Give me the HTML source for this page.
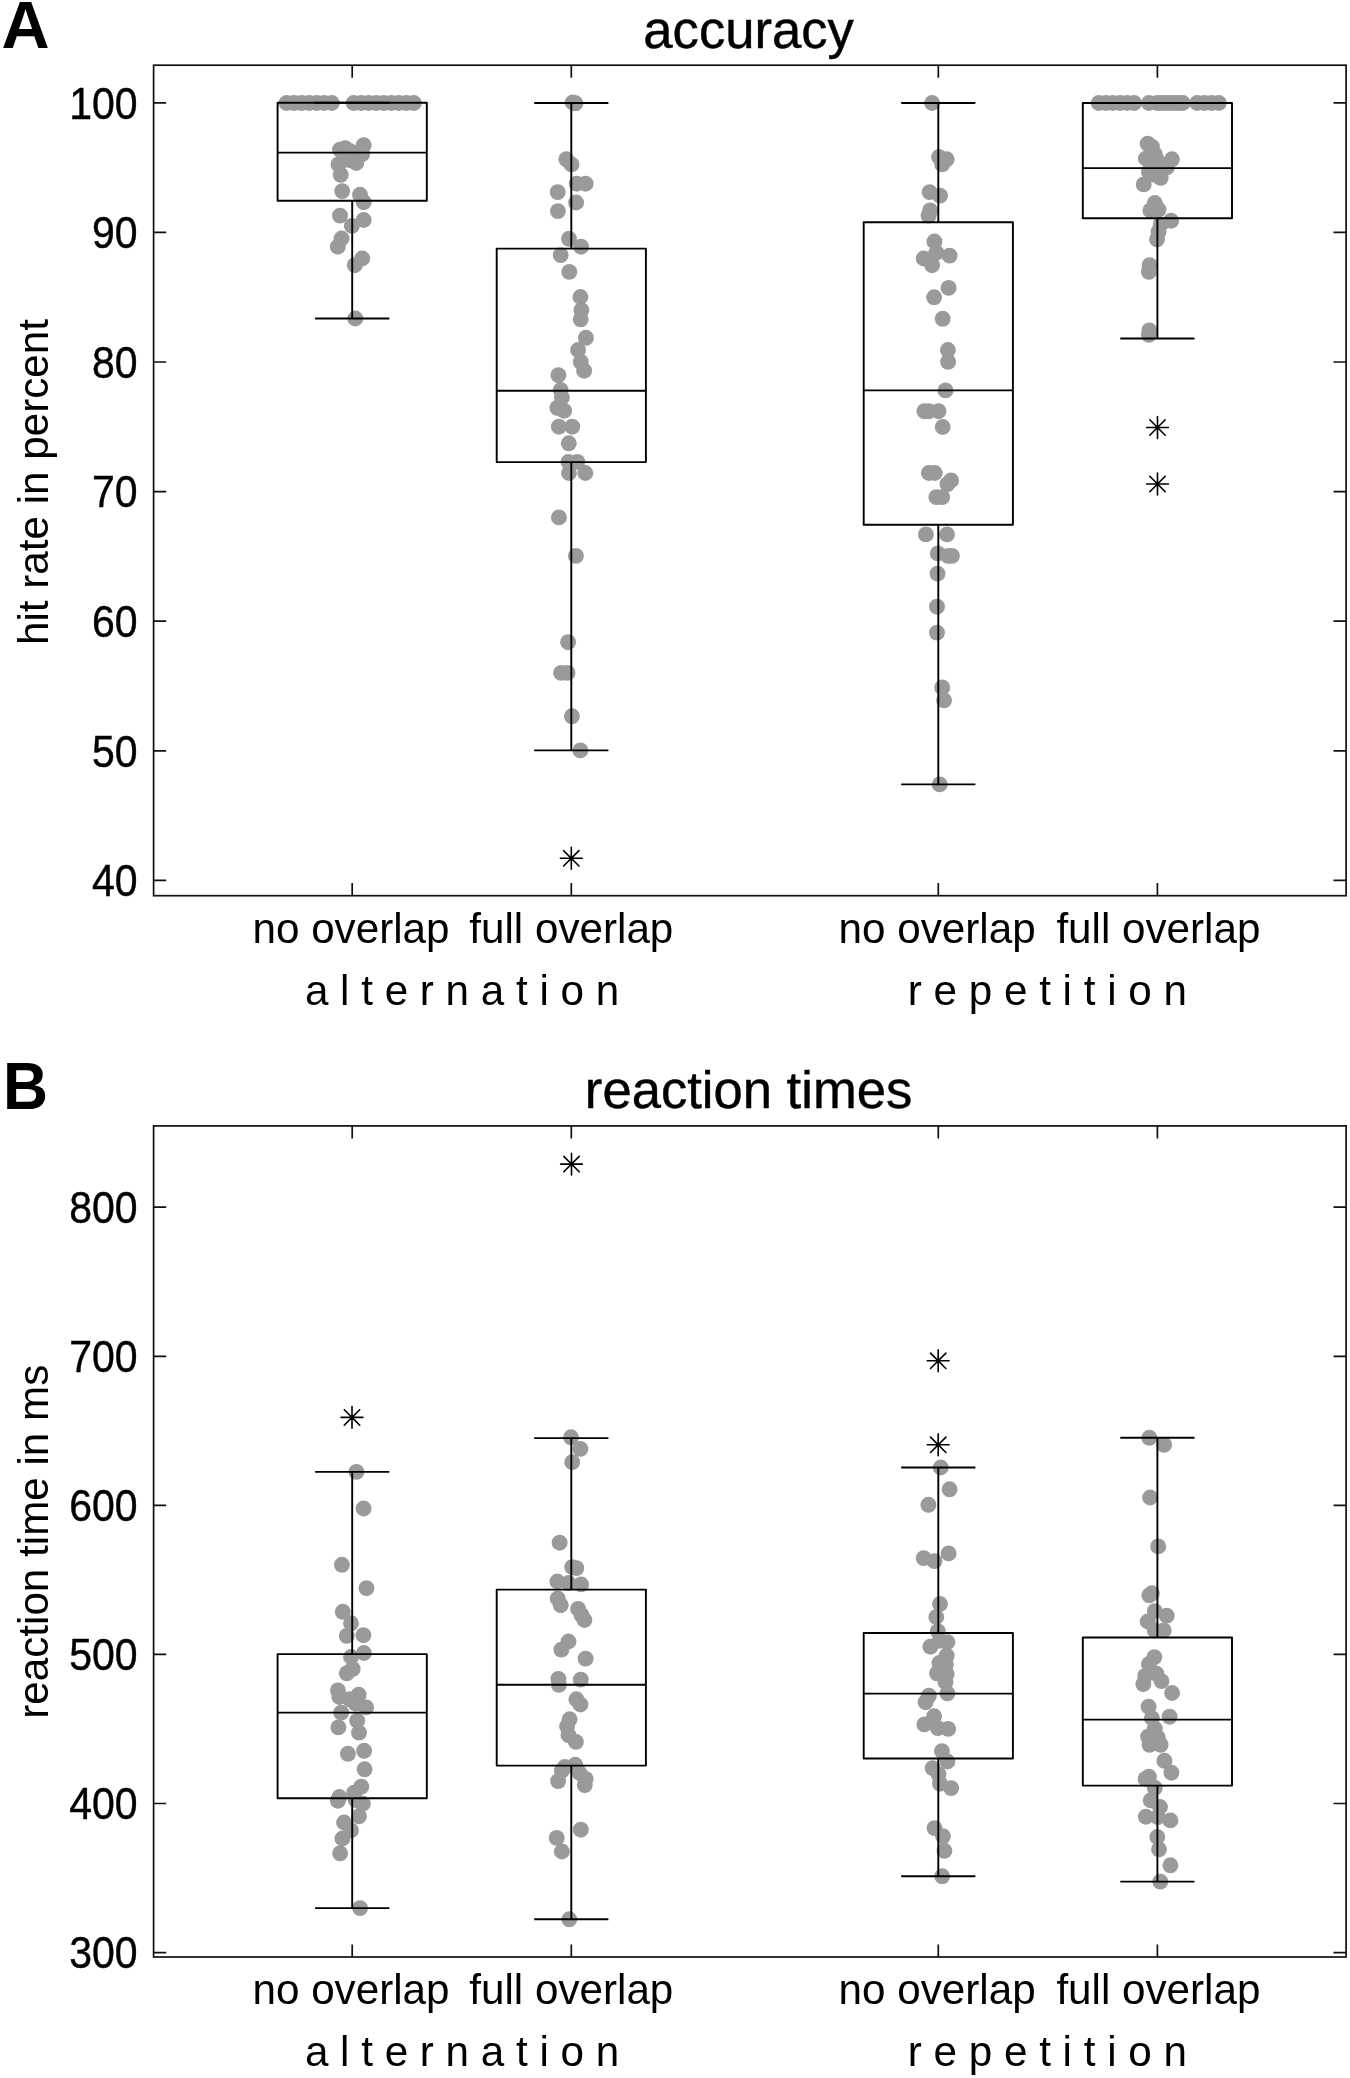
<!DOCTYPE html>
<html lang="en">
<head>
<meta charset="utf-8">
<title>accuracy and reaction times</title>
<style>
html,body{margin:0;padding:0;background:#fff;}
svg{display:block;will-change:transform;}
text{font-family:"Liberation Sans",Arial,Helvetica,sans-serif;fill:#000;}
.t{font-size:42.2px;}
.k{font-size:41.0px;stroke:#000;stroke-width:.4px;}
.ti{font-size:52.6px;fill:#000;stroke:#000;stroke-width:.45px;}
.L{font-size:63px;font-weight:bold;fill:#000;}
</style>
</head>
<body>
<svg width="1350" height="2078" viewBox="0 0 1350 2078">
<rect width="1350" height="2078" fill="#fff"/>
<g id="panelA">
<g fill="#9a9a9a"><circle cx="286.5" cy="103.0" r="7.95"/><circle cx="294.1" cy="103.0" r="7.95"/><circle cx="301.6" cy="103.0" r="7.95"/><circle cx="309.1" cy="103.0" r="7.95"/><circle cx="316.7" cy="103.0" r="7.95"/><circle cx="324.2" cy="103.0" r="7.95"/><circle cx="331.8" cy="103.0" r="7.95"/><circle cx="353.6" cy="103.0" r="7.95"/><circle cx="361.1" cy="103.0" r="7.95"/><circle cx="368.7" cy="103.0" r="7.95"/><circle cx="376.2" cy="103.0" r="7.95"/><circle cx="383.8" cy="103.0" r="7.95"/><circle cx="391.3" cy="103.0" r="7.95"/><circle cx="398.8" cy="103.0" r="7.95"/><circle cx="406.4" cy="103.0" r="7.95"/><circle cx="413.9" cy="103.0" r="7.95"/><circle cx="340.0" cy="149.6" r="7.95"/><circle cx="345.2" cy="148.1" r="7.95"/><circle cx="350.4" cy="151.1" r="7.95"/><circle cx="363.7" cy="145.2" r="7.95"/><circle cx="362.2" cy="154.1" r="7.95"/><circle cx="356.3" cy="163.0" r="7.95"/><circle cx="348.9" cy="160.0" r="7.95"/><circle cx="338.5" cy="164.4" r="7.95"/><circle cx="340.7" cy="174.8" r="7.95"/><circle cx="342.2" cy="191.1" r="7.95"/><circle cx="360.0" cy="194.8" r="7.95"/><circle cx="363.7" cy="202.2" r="7.95"/><circle cx="340.0" cy="215.6" r="7.95"/><circle cx="351.9" cy="225.9" r="7.95"/><circle cx="363.7" cy="220.0" r="7.95"/><circle cx="341.5" cy="238.5" r="7.95"/><circle cx="337.8" cy="246.7" r="7.95"/><circle cx="362.2" cy="258.5" r="7.95"/><circle cx="354.8" cy="265.2" r="7.95"/><circle cx="355.3" cy="318.5" r="7.95"/><circle cx="572.7" cy="102.5" r="7.95"/><circle cx="575.5" cy="103.3" r="7.95"/><circle cx="566.3" cy="159.3" r="7.95"/><circle cx="571.5" cy="164.4" r="7.95"/><circle cx="576.7" cy="183.7" r="7.95"/><circle cx="585.6" cy="183.7" r="7.95"/><circle cx="557.7" cy="192.1" r="7.95"/><circle cx="576.1" cy="202.5" r="7.95"/><circle cx="557.9" cy="211.1" r="7.95"/><circle cx="569.0" cy="238.8" r="7.95"/><circle cx="581.1" cy="246.7" r="7.95"/><circle cx="560.7" cy="255.1" r="7.95"/><circle cx="569.3" cy="271.9" r="7.95"/><circle cx="580.4" cy="297.0" r="7.95"/><circle cx="581.4" cy="310.1" r="7.95"/><circle cx="580.7" cy="319.3" r="7.95"/><circle cx="585.9" cy="337.8" r="7.95"/><circle cx="578.1" cy="350.0" r="7.95"/><circle cx="580.8" cy="361.9" r="7.95"/><circle cx="584.1" cy="370.7" r="7.95"/><circle cx="558.4" cy="375.2" r="7.95"/><circle cx="560.7" cy="390.0" r="7.95"/><circle cx="561.9" cy="397.4" r="7.95"/><circle cx="557.4" cy="407.8" r="7.95"/><circle cx="564.1" cy="410.7" r="7.95"/><circle cx="558.9" cy="426.7" r="7.95"/><circle cx="572.2" cy="426.7" r="7.95"/><circle cx="568.8" cy="443.3" r="7.95"/><circle cx="568.5" cy="461.9" r="7.95"/><circle cx="577.4" cy="461.9" r="7.95"/><circle cx="569.0" cy="473.0" r="7.95"/><circle cx="585.3" cy="473.0" r="7.95"/><circle cx="558.9" cy="517.4" r="7.95"/><circle cx="575.9" cy="555.9" r="7.95"/><circle cx="568.1" cy="642.2" r="7.95"/><circle cx="561.1" cy="672.9" r="7.95"/><circle cx="567.5" cy="672.9" r="7.95"/><circle cx="571.9" cy="716.3" r="7.95"/><circle cx="580.4" cy="750.4" r="7.95"/><circle cx="932.1" cy="103.0" r="7.95"/><circle cx="939.0" cy="157.0" r="7.95"/><circle cx="946.7" cy="159.3" r="7.95"/><circle cx="942.2" cy="164.4" r="7.95"/><circle cx="929.6" cy="192.1" r="7.95"/><circle cx="940.0" cy="195.6" r="7.95"/><circle cx="930.1" cy="210.4" r="7.95"/><circle cx="928.6" cy="215.6" r="7.95"/><circle cx="934.4" cy="241.5" r="7.95"/><circle cx="949.6" cy="255.6" r="7.95"/><circle cx="923.7" cy="258.5" r="7.95"/><circle cx="936.3" cy="252.6" r="7.95"/><circle cx="932.1" cy="265.2" r="7.95"/><circle cx="948.6" cy="287.9" r="7.95"/><circle cx="934.1" cy="297.3" r="7.95"/><circle cx="942.7" cy="318.8" r="7.95"/><circle cx="947.9" cy="350.0" r="7.95"/><circle cx="948.1" cy="361.9" r="7.95"/><circle cx="945.5" cy="390.4" r="7.95"/><circle cx="924.4" cy="411.2" r="7.95"/><circle cx="928.9" cy="411.2" r="7.95"/><circle cx="938.5" cy="411.2" r="7.95"/><circle cx="942.7" cy="427.0" r="7.95"/><circle cx="928.9" cy="473.0" r="7.95"/><circle cx="934.8" cy="473.0" r="7.95"/><circle cx="951.1" cy="480.4" r="7.95"/><circle cx="947.4" cy="484.1" r="7.95"/><circle cx="936.3" cy="497.1" r="7.95"/><circle cx="942.2" cy="497.1" r="7.95"/><circle cx="925.9" cy="534.4" r="7.95"/><circle cx="947.0" cy="534.4" r="7.95"/><circle cx="937.8" cy="553.4" r="7.95"/><circle cx="948.1" cy="555.9" r="7.95"/><circle cx="951.9" cy="555.9" r="7.95"/><circle cx="937.5" cy="573.7" r="7.95"/><circle cx="937.0" cy="606.7" r="7.95"/><circle cx="937.0" cy="632.6" r="7.95"/><circle cx="942.2" cy="687.4" r="7.95"/><circle cx="944.1" cy="700.3" r="7.95"/><circle cx="939.7" cy="784.4" r="7.95"/><circle cx="1098.7" cy="103.0" r="7.95"/><circle cx="1105.8" cy="103.0" r="7.95"/><circle cx="1112.9" cy="103.0" r="7.95"/><circle cx="1120.0" cy="103.0" r="7.95"/><circle cx="1127.1" cy="103.0" r="7.95"/><circle cx="1134.2" cy="103.0" r="7.95"/><circle cx="1148.9" cy="103.0" r="7.95"/><circle cx="1157.2" cy="103.0" r="7.95"/><circle cx="1161.5" cy="103.0" r="7.95"/><circle cx="1165.9" cy="103.0" r="7.95"/><circle cx="1170.2" cy="103.0" r="7.95"/><circle cx="1174.6" cy="103.0" r="7.95"/><circle cx="1178.7" cy="103.0" r="7.95"/><circle cx="1182.8" cy="103.0" r="7.95"/><circle cx="1197.1" cy="103.0" r="7.95"/><circle cx="1204.4" cy="103.0" r="7.95"/><circle cx="1211.6" cy="103.0" r="7.95"/><circle cx="1218.9" cy="103.0" r="7.95"/><circle cx="1147.7" cy="143.7" r="7.95"/><circle cx="1151.9" cy="146.7" r="7.95"/><circle cx="1154.8" cy="154.1" r="7.95"/><circle cx="1145.9" cy="158.5" r="7.95"/><circle cx="1157.0" cy="160.0" r="7.95"/><circle cx="1171.9" cy="159.3" r="7.95"/><circle cx="1166.7" cy="167.4" r="7.95"/><circle cx="1148.9" cy="171.9" r="7.95"/><circle cx="1160.7" cy="177.8" r="7.95"/><circle cx="1143.7" cy="184.4" r="7.95"/><circle cx="1154.8" cy="174.8" r="7.95"/><circle cx="1154.8" cy="203.0" r="7.95"/><circle cx="1150.4" cy="210.4" r="7.95"/><circle cx="1158.5" cy="209.6" r="7.95"/><circle cx="1171.1" cy="220.7" r="7.95"/><circle cx="1160.7" cy="224.4" r="7.95"/><circle cx="1158.5" cy="231.9" r="7.95"/><circle cx="1157.0" cy="239.3" r="7.95"/><circle cx="1149.6" cy="265.2" r="7.95"/><circle cx="1148.9" cy="271.9" r="7.95"/><circle cx="1149.3" cy="330.4" r="7.95"/><circle cx="1148.9" cy="334.8" r="7.95"/></g>
<path d="M352.2 102.8V102.8M352.2 200.7V318.5M315.1 102.8H389.3M315.1 318.5H389.3M277.6 152.6H426.8" stroke="#000" stroke-width="1.9" fill="none"/>
<rect x="277.6" y="102.8" width="149.2" height="97.9" stroke="#000" stroke-width="1.9" fill="none" stroke-linejoin="round"/>
<path d="M571.3 103.0V248.6M571.3 462.1V750.4M534.2 103.0H608.4M534.2 750.4H608.4M496.7 390.7H645.9" stroke="#000" stroke-width="1.9" fill="none"/>
<rect x="496.7" y="248.6" width="149.2" height="213.5" stroke="#000" stroke-width="1.9" fill="none" stroke-linejoin="round"/>
<path d="M938.3 103.0V222.2M938.3 524.8V784.4M901.2 103.0H975.4M901.2 784.4H975.4M863.7 390.4H1012.9" stroke="#000" stroke-width="1.9" fill="none"/>
<rect x="863.7" y="222.2" width="149.2" height="302.6" stroke="#000" stroke-width="1.9" fill="none" stroke-linejoin="round"/>
<path d="M1157.4 103.0V103.0M1157.4 218.2V338.5M1120.3 103.0H1194.5M1120.3 338.5H1194.5M1082.8 168.1H1232.0" stroke="#000" stroke-width="1.9" fill="none"/>
<rect x="1082.8" y="103.0" width="149.2" height="115.2" stroke="#000" stroke-width="1.9" fill="none" stroke-linejoin="round"/>
<path d="M560.4 858.3H582.2M571.3 847.4V869.2M563.6 850.6L579.0 866.0M563.6 866.0L579.0 850.6" stroke="#000" stroke-width="1.6" stroke-linecap="round" fill="none"/>
<path d="M1146.6 427.5H1168.4M1157.5 416.6V438.4M1149.8 419.8L1165.2 435.2M1149.8 435.2L1165.2 419.8" stroke="#000" stroke-width="1.6" stroke-linecap="round" fill="none"/>
<path d="M1146.6 484.0H1168.4M1157.5 473.1V494.9M1149.8 476.3L1165.2 491.7M1149.8 491.7L1165.2 476.3" stroke="#000" stroke-width="1.6" stroke-linecap="round" fill="none"/>
<rect x="153.6" y="65.2" width="1192.5" height="830.5" fill="none" stroke="#111" stroke-width="1.7"/>
<path d="M352.2 65.2v12.6M352.2 895.7v-12.6M571.3 65.2v12.6M571.3 895.7v-12.6M938.3 65.2v12.6M938.3 895.7v-12.6M1157.4 65.2v12.6M1157.4 895.7v-12.6M153.6 102.8h12.6M1346.1 102.8h-12.6M153.6 232.4h12.6M1346.1 232.4h-12.6M153.6 362.0h12.6M1346.1 362.0h-12.6M153.6 491.6h12.6M1346.1 491.6h-12.6M153.6 621.2h12.6M1346.1 621.2h-12.6M153.6 750.8h12.6M1346.1 750.8h-12.6M153.6 880.4h12.6M1346.1 880.4h-12.6" stroke="#111" stroke-width="1.7" fill="none"/>
<text transform="translate(137.60 118.60) scale(1.0 1.088)" text-anchor="end" class="k">100</text>
<text transform="translate(137.60 248.20) scale(1.0 1.088)" text-anchor="end" class="k">90</text>
<text transform="translate(137.60 377.80) scale(1.0 1.088)" text-anchor="end" class="k">80</text>
<text transform="translate(137.60 507.40) scale(1.0 1.088)" text-anchor="end" class="k">70</text>
<text transform="translate(137.60 637.00) scale(1.0 1.088)" text-anchor="end" class="k">60</text>
<text transform="translate(137.60 766.60) scale(1.0 1.088)" text-anchor="end" class="k">50</text>
<text transform="translate(137.60 896.20) scale(1.0 1.088)" text-anchor="end" class="k">40</text>
<text transform="translate(351.00 942.80)" text-anchor="middle" class="t">no overlap</text>
<text transform="translate(571.30 942.80)" text-anchor="middle" class="t">full overlap</text>
<text transform="translate(937.10 942.80)" text-anchor="middle" class="t">no overlap</text>
<text transform="translate(1158.40 942.80)" text-anchor="middle" class="t">full overlap</text>
<text transform="translate(462.05 1005.10)" text-anchor="middle" class="t" xml:space="preserve">a l t e r n a t i o n</text>
<text transform="translate(1047.35 1005.10)" text-anchor="middle" class="t" xml:space="preserve">r e p e t i t i o n</text>
<text transform="translate(748.55 47.80)" text-anchor="middle" class="ti">accuracy</text>
<text transform="translate(48.20 482.05) rotate(-90)" text-anchor="middle" class="t">hit rate in percent</text>
<text transform="translate(1.40 47.90) scale(1.058 1.051)" text-anchor="start" class="L">A</text>
</g>
<g id="panelB">
<g fill="#9a9a9a"><circle cx="356.4" cy="1471.9" r="7.95"/><circle cx="363.6" cy="1508.5" r="7.95"/><circle cx="341.9" cy="1564.8" r="7.95"/><circle cx="366.5" cy="1588.2" r="7.95"/><circle cx="342.8" cy="1611.8" r="7.95"/><circle cx="351.0" cy="1623.3" r="7.95"/><circle cx="346.8" cy="1635.9" r="7.95"/><circle cx="363.4" cy="1635.2" r="7.95"/><circle cx="363.9" cy="1653.0" r="7.95"/><circle cx="351.0" cy="1657.0" r="7.95"/><circle cx="352.7" cy="1668.9" r="7.95"/><circle cx="346.8" cy="1673.3" r="7.95"/><circle cx="337.9" cy="1690.4" r="7.95"/><circle cx="339.4" cy="1697.0" r="7.95"/><circle cx="349.8" cy="1699.3" r="7.95"/><circle cx="358.7" cy="1694.8" r="7.95"/><circle cx="355.7" cy="1703.7" r="7.95"/><circle cx="366.1" cy="1707.4" r="7.95"/><circle cx="341.2" cy="1712.6" r="7.95"/><circle cx="357.2" cy="1720.7" r="7.95"/><circle cx="338.4" cy="1727.4" r="7.95"/><circle cx="359.0" cy="1732.6" r="7.95"/><circle cx="364.1" cy="1750.8" r="7.95"/><circle cx="347.9" cy="1753.8" r="7.95"/><circle cx="364.6" cy="1769.3" r="7.95"/><circle cx="361.3" cy="1786.7" r="7.95"/><circle cx="354.2" cy="1792.6" r="7.95"/><circle cx="339.4" cy="1797.0" r="7.95"/><circle cx="337.9" cy="1800.7" r="7.95"/><circle cx="355.7" cy="1800.0" r="7.95"/><circle cx="362.8" cy="1803.7" r="7.95"/><circle cx="359.0" cy="1816.3" r="7.95"/><circle cx="344.1" cy="1822.5" r="7.95"/><circle cx="351.0" cy="1830.4" r="7.95"/><circle cx="342.4" cy="1838.5" r="7.95"/><circle cx="340.1" cy="1853.3" r="7.95"/><circle cx="360.1" cy="1908.1" r="7.95"/><circle cx="571.0" cy="1437.3" r="7.95"/><circle cx="580.4" cy="1448.9" r="7.95"/><circle cx="572.2" cy="1462.2" r="7.95"/><circle cx="559.6" cy="1542.7" r="7.95"/><circle cx="572.2" cy="1567.1" r="7.95"/><circle cx="576.4" cy="1568.1" r="7.95"/><circle cx="557.4" cy="1581.5" r="7.95"/><circle cx="568.5" cy="1583.0" r="7.95"/><circle cx="581.1" cy="1584.4" r="7.95"/><circle cx="557.7" cy="1598.5" r="7.95"/><circle cx="560.7" cy="1605.2" r="7.95"/><circle cx="578.1" cy="1608.9" r="7.95"/><circle cx="581.4" cy="1614.8" r="7.95"/><circle cx="584.4" cy="1620.0" r="7.95"/><circle cx="568.5" cy="1641.5" r="7.95"/><circle cx="561.4" cy="1649.6" r="7.95"/><circle cx="585.6" cy="1658.6" r="7.95"/><circle cx="558.4" cy="1678.9" r="7.95"/><circle cx="558.9" cy="1684.8" r="7.95"/><circle cx="580.8" cy="1679.6" r="7.95"/><circle cx="576.4" cy="1699.3" r="7.95"/><circle cx="580.4" cy="1704.5" r="7.95"/><circle cx="569.6" cy="1719.3" r="7.95"/><circle cx="567.0" cy="1726.3" r="7.95"/><circle cx="568.5" cy="1735.2" r="7.95"/><circle cx="575.9" cy="1741.9" r="7.95"/><circle cx="564.8" cy="1767.0" r="7.95"/><circle cx="575.2" cy="1764.8" r="7.95"/><circle cx="561.9" cy="1770.7" r="7.95"/><circle cx="558.1" cy="1781.1" r="7.95"/><circle cx="579.6" cy="1773.0" r="7.95"/><circle cx="585.6" cy="1778.9" r="7.95"/><circle cx="584.8" cy="1785.1" r="7.95"/><circle cx="580.8" cy="1829.7" r="7.95"/><circle cx="556.7" cy="1837.9" r="7.95"/><circle cx="561.9" cy="1851.5" r="7.95"/><circle cx="569.3" cy="1919.3" r="7.95"/><circle cx="940.7" cy="1467.5" r="7.95"/><circle cx="949.6" cy="1489.3" r="7.95"/><circle cx="928.4" cy="1504.8" r="7.95"/><circle cx="948.6" cy="1553.4" r="7.95"/><circle cx="923.7" cy="1558.1" r="7.95"/><circle cx="934.5" cy="1561.1" r="7.95"/><circle cx="940.0" cy="1604.0" r="7.95"/><circle cx="936.3" cy="1617.0" r="7.95"/><circle cx="937.8" cy="1631.1" r="7.95"/><circle cx="940.0" cy="1640.7" r="7.95"/><circle cx="947.4" cy="1642.2" r="7.95"/><circle cx="930.4" cy="1646.7" r="7.95"/><circle cx="946.7" cy="1655.6" r="7.95"/><circle cx="939.3" cy="1663.0" r="7.95"/><circle cx="945.9" cy="1664.4" r="7.95"/><circle cx="937.0" cy="1673.3" r="7.95"/><circle cx="946.7" cy="1674.1" r="7.95"/><circle cx="945.5" cy="1682.2" r="7.95"/><circle cx="947.4" cy="1693.3" r="7.95"/><circle cx="928.9" cy="1695.6" r="7.95"/><circle cx="925.6" cy="1702.2" r="7.95"/><circle cx="934.1" cy="1716.3" r="7.95"/><circle cx="924.4" cy="1724.4" r="7.95"/><circle cx="937.8" cy="1728.1" r="7.95"/><circle cx="948.1" cy="1728.9" r="7.95"/><circle cx="941.9" cy="1751.1" r="7.95"/><circle cx="947.4" cy="1761.5" r="7.95"/><circle cx="932.6" cy="1768.1" r="7.95"/><circle cx="938.5" cy="1774.1" r="7.95"/><circle cx="940.0" cy="1783.7" r="7.95"/><circle cx="951.1" cy="1788.1" r="7.95"/><circle cx="934.5" cy="1828.1" r="7.95"/><circle cx="943.0" cy="1836.3" r="7.95"/><circle cx="944.4" cy="1850.8" r="7.95"/><circle cx="942.2" cy="1876.3" r="7.95"/><circle cx="1149.3" cy="1437.8" r="7.95"/><circle cx="1164.1" cy="1444.9" r="7.95"/><circle cx="1150.1" cy="1497.5" r="7.95"/><circle cx="1158.2" cy="1546.4" r="7.95"/><circle cx="1151.9" cy="1593.3" r="7.95"/><circle cx="1149.3" cy="1595.3" r="7.95"/><circle cx="1154.8" cy="1611.1" r="7.95"/><circle cx="1166.7" cy="1615.6" r="7.95"/><circle cx="1147.7" cy="1621.5" r="7.95"/><circle cx="1154.8" cy="1630.4" r="7.95"/><circle cx="1163.7" cy="1630.4" r="7.95"/><circle cx="1154.4" cy="1657.1" r="7.95"/><circle cx="1148.9" cy="1664.1" r="7.95"/><circle cx="1145.2" cy="1675.9" r="7.95"/><circle cx="1156.3" cy="1673.7" r="7.95"/><circle cx="1143.3" cy="1684.1" r="7.95"/><circle cx="1161.5" cy="1681.1" r="7.95"/><circle cx="1172.1" cy="1693.0" r="7.95"/><circle cx="1148.6" cy="1706.7" r="7.95"/><circle cx="1151.9" cy="1718.1" r="7.95"/><circle cx="1169.6" cy="1716.7" r="7.95"/><circle cx="1154.8" cy="1728.5" r="7.95"/><circle cx="1148.1" cy="1736.7" r="7.95"/><circle cx="1157.8" cy="1737.4" r="7.95"/><circle cx="1149.6" cy="1744.8" r="7.95"/><circle cx="1160.7" cy="1744.8" r="7.95"/><circle cx="1164.4" cy="1760.8" r="7.95"/><circle cx="1171.4" cy="1772.7" r="7.95"/><circle cx="1148.9" cy="1776.7" r="7.95"/><circle cx="1145.6" cy="1778.9" r="7.95"/><circle cx="1154.8" cy="1787.8" r="7.95"/><circle cx="1150.7" cy="1800.4" r="7.95"/><circle cx="1160.0" cy="1807.0" r="7.95"/><circle cx="1145.9" cy="1816.7" r="7.95"/><circle cx="1157.8" cy="1817.1" r="7.95"/><circle cx="1170.4" cy="1820.4" r="7.95"/><circle cx="1157.3" cy="1837.0" r="7.95"/><circle cx="1159.0" cy="1849.3" r="7.95"/><circle cx="1170.4" cy="1865.3" r="7.95"/><circle cx="1160.3" cy="1881.6" r="7.95"/></g>
<path d="M352.2 1471.9V1654.1M352.2 1798.2V1908.1M315.1 1471.9H389.3M315.1 1908.1H389.3M277.6 1712.6H426.8" stroke="#000" stroke-width="1.9" fill="none"/>
<rect x="277.6" y="1654.1" width="149.2" height="144.1" stroke="#000" stroke-width="1.9" fill="none" stroke-linejoin="round"/>
<path d="M571.3 1438.1V1589.6M571.3 1765.6V1919.3M534.2 1438.1H608.4M534.2 1919.3H608.4M496.7 1684.8H645.9" stroke="#000" stroke-width="1.9" fill="none"/>
<rect x="496.7" y="1589.6" width="149.2" height="176.0" stroke="#000" stroke-width="1.9" fill="none" stroke-linejoin="round"/>
<path d="M938.3 1467.5V1633.0M938.3 1758.5V1876.3M901.2 1467.5H975.4M901.2 1876.3H975.4M863.7 1693.6H1012.9" stroke="#000" stroke-width="1.9" fill="none"/>
<rect x="863.7" y="1633.0" width="149.2" height="125.5" stroke="#000" stroke-width="1.9" fill="none" stroke-linejoin="round"/>
<path d="M1157.4 1437.8V1637.5M1157.4 1785.6V1881.6M1120.3 1437.8H1194.5M1120.3 1881.6H1194.5M1082.8 1719.6H1232.0" stroke="#000" stroke-width="1.9" fill="none"/>
<rect x="1082.8" y="1637.5" width="149.2" height="148.1" stroke="#000" stroke-width="1.9" fill="none" stroke-linejoin="round"/>
<path d="M341.1 1417.4H362.9M352.0 1406.5V1428.3M344.3 1409.7L359.7 1425.1M344.3 1425.1L359.7 1409.7" stroke="#000" stroke-width="1.6" stroke-linecap="round" fill="none"/>
<path d="M560.6 1164.1H582.4M571.5 1153.2V1175.0M563.8 1156.4L579.2 1171.8M563.8 1171.8L579.2 1156.4" stroke="#000" stroke-width="1.6" stroke-linecap="round" fill="none"/>
<path d="M927.3 1360.8H949.1M938.2 1349.9V1371.7M930.5 1353.1L945.9 1368.5M930.5 1368.5L945.9 1353.1" stroke="#000" stroke-width="1.6" stroke-linecap="round" fill="none"/>
<path d="M927.3 1444.8H949.1M938.2 1433.9V1455.7M930.5 1437.1L945.9 1452.5M930.5 1452.5L945.9 1437.1" stroke="#000" stroke-width="1.6" stroke-linecap="round" fill="none"/>
<rect x="153.6" y="1125.9" width="1192.5" height="831.1" fill="none" stroke="#111" stroke-width="1.7"/>
<path d="M352.2 1125.9v12.6M352.2 1957.0v-12.6M571.3 1125.9v12.6M571.3 1957.0v-12.6M938.3 1125.9v12.6M938.3 1957.0v-12.6M1157.4 1125.9v12.6M1157.4 1957.0v-12.6M153.6 1207.2h12.6M1346.1 1207.2h-12.6M153.6 1356.3h12.6M1346.1 1356.3h-12.6M153.6 1505.4h12.6M1346.1 1505.4h-12.6M153.6 1654.4h12.6M1346.1 1654.4h-12.6M153.6 1803.5h12.6M1346.1 1803.5h-12.6M153.6 1952.6h12.6M1346.1 1952.6h-12.6" stroke="#111" stroke-width="1.7" fill="none"/>
<text transform="translate(137.60 1223.00) scale(1.0 1.088)" text-anchor="end" class="k">800</text>
<text transform="translate(137.60 1372.08) scale(1.0 1.088)" text-anchor="end" class="k">700</text>
<text transform="translate(137.60 1521.16) scale(1.0 1.088)" text-anchor="end" class="k">600</text>
<text transform="translate(137.60 1670.24) scale(1.0 1.088)" text-anchor="end" class="k">500</text>
<text transform="translate(137.60 1819.32) scale(1.0 1.088)" text-anchor="end" class="k">400</text>
<text transform="translate(137.60 1968.40) scale(1.0 1.088)" text-anchor="end" class="k">300</text>
<text transform="translate(351.00 2004.10)" text-anchor="middle" class="t">no overlap</text>
<text transform="translate(571.30 2004.10)" text-anchor="middle" class="t">full overlap</text>
<text transform="translate(937.10 2004.10)" text-anchor="middle" class="t">no overlap</text>
<text transform="translate(1158.40 2004.10)" text-anchor="middle" class="t">full overlap</text>
<text transform="translate(462.05 2066.40)" text-anchor="middle" class="t" xml:space="preserve">a l t e r n a t i o n</text>
<text transform="translate(1047.35 2066.40)" text-anchor="middle" class="t" xml:space="preserve">r e p e t i t i o n</text>
<text transform="translate(748.55 1108.30)" text-anchor="middle" class="ti">reaction times</text>
<text transform="translate(48.20 1541.75) rotate(-90)" text-anchor="middle" class="t">reaction time in ms</text>
<text transform="translate(2.90 1109.00) scale(0.99 1.065)" text-anchor="start" class="L">B</text>
</g>
</svg>
</body>
</html>
